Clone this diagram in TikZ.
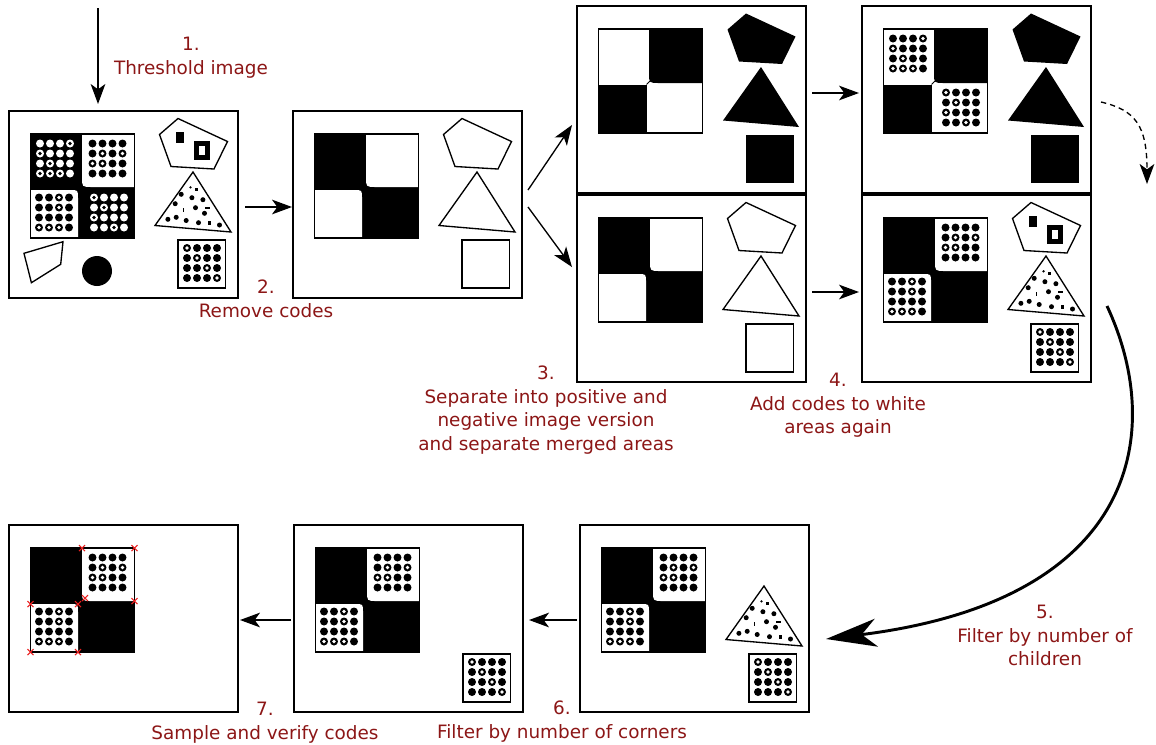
\documentclass[tikz,border=0pt]{standalone}
\usepackage{fontspec}
\setmainfont{DejaVu Sans}
\usetikzlibrary{arrows.meta}
\definecolor{labelred}{RGB}{140,22,22}
\definecolor{xred}{RGB}{235,30,30}
\tikzset{
  panel/.style={draw=black, line width=1.1pt, fill=white, minimum width=171.75pt, minimum height=140.25pt, inner sep=0pt, outer sep=0pt, anchor=north west},
  lbl/.style={font=\fontsize{13.8}{17.6}\selectfont, text=labelred, align=center, inner sep=0pt, anchor=north},
  arr/.style={line width=1pt, -{Stealth[length=15pt,width=11pt,inset=4pt]}},
  shp/.style={line width=1pt, draw=black, line join=miter},
  xmark/.style={draw=xred, line width=0.8pt},
}
% 4x4 code grid: x0, y0, fg, bg, ring list (col/row)
\newcommand{\cgrid}[5]{%
  \foreach \ci in {0,...,3}{\foreach \cj in {0,...,3}{\fill[#3] (#1+10*\ci,#2+10*\cj) circle[radius=4];}}
  \foreach \ci/\cj in {#5}{\fill[#4] (#1+10*\ci,#2+10*\cj) circle[radius=1.8];}
}
\newcommand{\posquads}{%
  \fill[black] (21.5,23) rectangle (125.5,127);
  \fill[white] (73,23) -- (125.5,23) -- (125.5,76) -- (83,76) .. controls (73,76) .. (73,66) -- cycle;
  \fill[white] (21.5,79) -- (61,79) .. controls (69,79) .. (69,87) -- (69,127) -- (21.5,127) -- cycle;
  \draw[line width=1pt] (21.5,23) rectangle (125.5,127);
}
\newcommand{\negquads}{%
  \fill[white] (21.5,23) rectangle (125.5,127);
  \fill[black] (72,23) -- (125.5,23) -- (125.5,77) -- (82,77) .. controls (72,77) .. (72,67) -- cycle;
  \fill[black] (21.5,78.5) -- (69.5,78.5) -- (69.5,127) -- (21.5,127) -- cycle;
  \draw[line width=0.7pt] (69.5,78.5) -- (74.5,73.5);
  \draw[line width=1pt] (21.5,23) rectangle (125.5,127);
}
\newcommand{\poscodes}{%
  \cgrid{83.5}{32.5}{black}{white}{1/1,3/1,0/2,1/2}
  \cgrid{30}{86.5}{black}{white}{2/0,2/1,0/3,1/3,2/3}
}
\newcommand{\negcodes}{%
  \cgrid{31}{32.5}{black}{white}{3/0,0/1,1/2,0/3,1/3,2/3}
  \cgrid{84}{86.5}{black}{white}{0/0,1/1,0/2,2/3}
}
\newcommand{\pent}[1]{\path[#1] (150.5,23.5) -- (169,7.5) -- (218.5,30.5) -- (205,58) -- (162,55.5) -- cycle;}
\newcommand{\tri}[1]{\path[#1] (184,61) -- (146,114.5) -- (222,121) -- cycle;}
\newcommand{\sq}[1]{\path[#1] (169,129) rectangle (216.5,177);}
\newcommand{\pentinner}{%
  \fill[black] (166.5,21) rectangle (175,32);
  \fill[black] (184.5,30) rectangle (201,49);
  \fill[white] (190,34.5) rectangle (195.5,44);
}
\newcommand{\tridots}{%
  \fill[black] (181.5,76.3) circle[radius=1.3];
  \fill[black] (185.7,76.5) rectangle (188.7,80.2);
  \foreach \dx/\dy in {172.2/83.3,182.9/86.7,193.9/88.7,166.2/92.7,186.5/96.7,195.5/102.3,158.9/108.3,167.2/106.3,177.2/109.5,189.5/111.7,210.5/114}
    {\fill[black] (\dx,\dy) circle[radius=2.5];}
  \fill[black] (196.4,95.7) rectangle (201.4,97.7);
  \fill[black] (173.8,97.3) rectangle (175.3,101.3);
  \fill[black] (199,109.8) rectangle (202,113.6);
}
\newcommand{\codebox}{%
  \sq{shp,fill=white}
  \cgrid{178}{137}{black}{white}{0/0,1/1,2/2,3/3}
}
\newcommand{\xm}[2]{\draw[xmark] (#1-3,#2-3) -- (#1+3,#2+3) (#1-3,#2+3) -- (#1+3,#2-3);}

\begin{document}
\begin{tikzpicture}[x=0.75pt,y=-0.75pt]
\useasboundingbox (0,0) rectangle (1156,744);

% ---------- Panel 1 ----------
\begin{scope}[shift={(9,111)}]
  \node[panel] (p1) at (0,0) {};
  \posquads
  \cgrid{31}{32.5}{white}{black}{3/0,0/1,1/2,0/3,1/3,2/3}
  \cgrid{83.5}{32.5}{black}{white}{1/1,3/1,0/2,1/2}
  \cgrid{30}{86.5}{black}{white}{2/0,2/1,0/3,1/3,2/3}
  \cgrid{85}{86.5}{white}{black}{0/0,1/1,0/2,2/3}
  \pent{shp}
  \pentinner
  \tri{shp}
  \tridots
  \codebox
  \draw[shp] (15,142.3) -- (54,130.7) -- (51.7,153.3) -- (22.4,171.7) -- cycle;
  \fill[black] (88,160) circle[radius=15];
\end{scope}

% ---------- Panel 2 ----------
\begin{scope}[shift={(293,111)}]
  \node[panel] (p2) at (0,0) {};
  \posquads
  \pent{shp}
  \tri{shp}
  \sq{shp}
\end{scope}

% ---------- Panel 3a ----------
\begin{scope}[shift={(577,6)}]
  \node[panel] (p3a) at (0,0) {};
  \negquads
  \pent{fill=black}
  \tri{fill=black}
  \sq{fill=black}
\end{scope}

% ---------- Panel 3b ----------
\begin{scope}[shift={(577,195)}]
  \node[panel] (p3b) at (0,0) {};
  \posquads
  \pent{shp}
  \tri{shp}
  \sq{shp}
\end{scope}

% ---------- Panel 4a ----------
\begin{scope}[shift={(862,6)}]
  \node[panel] (p4a) at (0,0) {};
  \negquads
  \negcodes
  \pent{fill=black}
  \tri{fill=black}
  \sq{fill=black}
\end{scope}

% ---------- Panel 4b ----------
\begin{scope}[shift={(862,195)}]
  \node[panel] (p4b) at (0,0) {};
  \posquads
  \poscodes
  \pent{shp}
  \pentinner
  \tri{shp}
  \tridots
  \codebox
\end{scope}

% ---------- Panel 5 ----------
\begin{scope}[shift={(580,525)}]
  \node[panel] (p5) at (0,0) {};
  \posquads
  \poscodes
  \tri{shp}
  \tridots
  \codebox
\end{scope}

% ---------- Panel 6 ----------
\begin{scope}[shift={(294,525)}]
  \node[panel] (p6) at (0,0) {};
  \posquads
  \poscodes
  \codebox
\end{scope}

% ---------- Panel 7 ----------
\begin{scope}[shift={(9,525)}]
  \node[panel] (p7) at (0,0) {};
  \posquads
  \poscodes
  \xm{73}{23}\xm{125.5}{23}\xm{76}{73}\xm{125.5}{76}
  \xm{21.5}{79}\xm{69}{79}\xm{21.5}{127}\xm{69}{127}
\end{scope}

% ---------- connector ends ----------
\coordinate (a1s) at (98,8);     \coordinate (a1e) at (98,104);
\coordinate (a2s) at (245,207);  \coordinate (a2e) at (292,207);
\coordinate (a3s) at (528,190);  \coordinate (a3e) at (572,125);
\coordinate (a3t) at (528,207);  \coordinate (a3f) at (572,267);
\coordinate (a4s) at (812,93);   \coordinate (a4e) at (859,93);
\coordinate (a4t) at (812,292);  \coordinate (a4f) at (859,292);
\coordinate (ads) at (1101,102); \coordinate (ade) at (1147,184);
\coordinate (a5s) at (1107,306); \coordinate (a5e) at (826,639);
\coordinate (a6s) at (577,620);  \coordinate (a6e) at (529,620);
\coordinate (a7s) at (291,620);  \coordinate (a7e) at (240,620);

\draw[arr] (a1s) -- (a1e);
\draw[arr] (a2s) -- (a2e);
\draw[arr] (a3s) -- (a3e);
\draw[arr] (a3t) -- (a3f);
\draw[arr] (a4s) -- (a4e);
\draw[arr] (a4t) -- (a4f);
\draw[arr, dash pattern=on 4pt off 3pt] (ads) .. controls (1135,110) and (1147,125) .. (ade);
\draw[line width=2.2pt, -{Stealth[length=38pt,width=21pt,inset=11pt]}] (a5s) .. controls (1165,430) and (1140,600) .. (a5e);
\draw[arr] (a6s) -- (a6e);
\draw[arr] (a7s) -- (a7e);

% ---------- labels ----------
\node[lbl] (t1) at (191,37) {1.\\Threshold image};
\node[lbl] (t2) at (266,280) {2.\\Remove codes};
\node[lbl] (t3) at (546,366) {3.\\Separate into positive and\\negative image version\\and separate merged areas};
\node[lbl] (t4) at (838,373) {4.\\Add codes to white\\areas again};
\node[lbl] (t5) at (1045,605) {5.\\Filter by number of\\children};
\node[lbl] (t6) at (562,701) {6.\\Filter by number of corners};
\node[lbl] (t7) at (265,702) {7.\\Sample and verify codes};
\end{tikzpicture}
\end{document}
